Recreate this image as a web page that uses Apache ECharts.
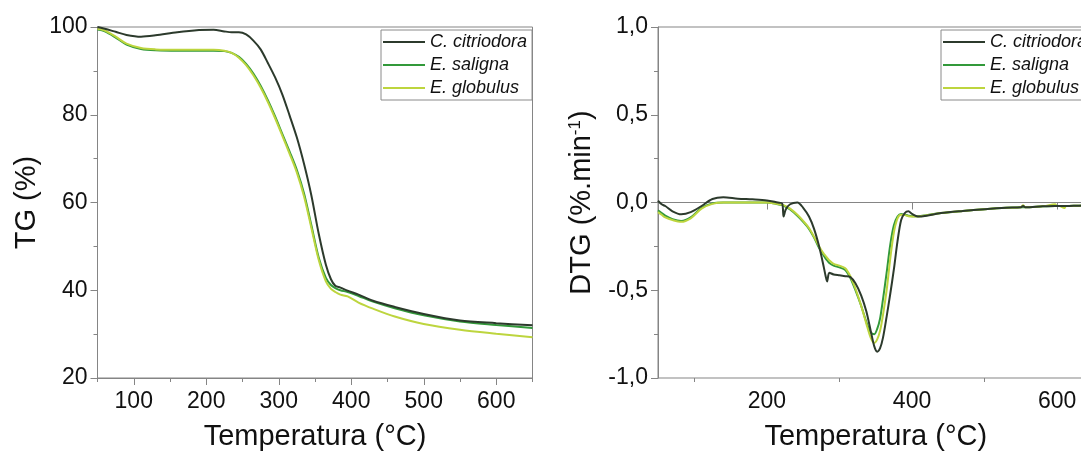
<!DOCTYPE html>
<html>
<head>
<meta charset="utf-8">
<script src="https://cdn.jsdelivr.net/npm/echarts@6/dist/echarts.min.js"></script>
<style>
  html, body { margin: 0; padding: 0; background: #fff; overflow: hidden; }
  #chart { width: 1100px; height: 459px; }
</style>
</head>
<body>
<div id="chart"></div>
<script>
// Thermogravimetric (TG) and derivative (DTG) curves of three eucalyptus woods
const speciesNames = ['C. citriodora', 'E. saligna', 'E. globulus'];

// TG: residual mass (%) vs temperature (°C)
const tgTemps = [50, 60, 75, 90, 110, 130, 160, 190, 210, 225, 235, 245, 255, 265, 275, 285, 295, 305, 315, 325, 335, 345, 355, 365, 372, 378, 385, 395, 410, 430, 460, 500, 550, 600, 650];
const tgCitriodora = [100.0, 99.6, 98.9, 98.2, 97.8, 98.1, 98.8, 99.3, 99.4, 99.0, 98.8, 98.8, 98.3, 96.9, 94.9, 91.8, 88.5, 84.6, 79.8, 74.8, 68.7, 61.6, 53.0, 45.8, 42.5, 41.0, 40.6, 39.9, 39.0, 37.6, 36.2, 34.6, 33.1, 32.5, 32.0];
const tgSaligna = [99.4, 99.0, 97.6, 96.0, 95.0, 94.7, 94.6, 94.6, 94.6, 94.5, 94.1, 93.2, 91.6, 89.4, 86.6, 83.3, 79.6, 75.6, 71.6, 67.4, 62.0, 54.8, 47.5, 42.8, 41.2, 40.5, 40.0, 39.6, 38.7, 37.4, 35.9, 34.3, 32.9, 32.1, 31.4];
const tgGlobulus = [99.6, 99.2, 97.8, 96.2, 95.2, 94.9, 94.8, 94.8, 94.8, 94.6, 94.1, 93.0, 91.3, 89.0, 86.2, 82.9, 79.2, 75.2, 71.1, 66.8, 61.3, 54.2, 47.0, 42.0, 40.3, 39.6, 39.0, 38.6, 37.2, 35.8, 34.0, 32.3, 31.0, 30.1, 29.3];

// DTG: mass loss rate (%.min-1) vs temperature (°C)
const dtgTemps = [50, 55, 60, 70, 82, 95, 110, 125, 140, 160, 180, 200, 215, 221, 223, 226, 232, 242, 250, 258, 265, 272, 278, 281, 283, 286, 292, 300, 308, 315, 322, 330, 337, 343, 348, 352, 356, 360, 365, 370, 375, 380, 385, 390, 395, 400, 408, 420, 440, 470, 500, 530, 550, 553, 556, 580, 597, 600, 603, 610, 612, 630, 650];
const dtgCitriodora = [0.01, -0.01, -0.02, -0.05, -0.067, -0.055, -0.02, 0.02, 0.03, 0.022, 0.018, 0.012, 0.0, -0.005, -0.08, -0.04, -0.01, 0.0, -0.03, -0.08, -0.15, -0.25, -0.36, -0.42, -0.45, -0.40, -0.41, -0.415, -0.42, -0.425, -0.46, -0.53, -0.62, -0.73, -0.82, -0.85, -0.83, -0.77, -0.65, -0.52, -0.38, -0.22, -0.10, -0.06, -0.05, -0.065, -0.08, -0.075, -0.06, -0.048, -0.038, -0.03, -0.027, -0.02, -0.027, -0.022, -0.02, -0.02, -0.02, -0.02, -0.02, -0.018, -0.017];
const dtgSaligna = [-0.045, -0.06, -0.075, -0.095, -0.105, -0.085, -0.03, -0.005, 0.0, 0.0, 0.0, 0.0, -0.01, -0.015, -0.018, -0.025, -0.04, -0.075, -0.11, -0.15, -0.20, -0.26, -0.30, -0.32, -0.33, -0.345, -0.36, -0.37, -0.385, -0.43, -0.50, -0.59, -0.68, -0.74, -0.75, -0.72, -0.66, -0.55, -0.40, -0.24, -0.13, -0.08, -0.065, -0.07, -0.075, -0.078, -0.078, -0.072, -0.06, -0.048, -0.038, -0.03, -0.027, -0.027, -0.027, -0.022, -0.02, -0.02, -0.02, -0.02, -0.02, -0.018, -0.017];
const dtgGlobulus = [-0.055, -0.07, -0.085, -0.10, -0.11, -0.09, -0.035, -0.008, 0.0, 0.0, 0.0, 0.0, -0.008, -0.012, -0.015, -0.02, -0.035, -0.07, -0.105, -0.145, -0.195, -0.25, -0.29, -0.305, -0.315, -0.33, -0.35, -0.36, -0.375, -0.42, -0.49, -0.59, -0.69, -0.77, -0.80, -0.78, -0.73, -0.64, -0.50, -0.32, -0.17, -0.09, -0.07, -0.072, -0.078, -0.08, -0.08, -0.073, -0.06, -0.048, -0.038, -0.03, -0.027, -0.015, -0.027, -0.022, -0.01, -0.02, -0.02, -0.032, -0.02, -0.018, -0.017];

// Axis ticks and labels
const tgMajorTicks = [100, 200, 300, 400, 500, 600];
const tgMinorTicks = [50, 150, 250, 350, 450, 550, 650];
const dtgMajorTicks = [200, 400, 600];
const dtgMinorTicks = [100, 300, 500];

const colors = ['#2c3a2c', '#32993a', '#bdd53e'];
const FONT = '"Liberation Sans", Arial, sans-serif';
const axisGrey = '#858585';

function pairs(xs, ys) { return xs.map((x, i) => [x, ys[i]]); }

function xAxisPair(gridIndex, major, minor) {
  const base = {
    gridIndex, type: 'value', min: 50, max: 650, interval: 50, position: 'bottom',
    splitLine: { show: false }
  };
  return [
    Object.assign({}, base, {
      axisLine: { show: true, lineStyle: { color: axisGrey, width: 1 } },
      axisTick: { show: true, customValues: major, length: 7, lineStyle: { color: axisGrey } },
      axisLabel: { show: true, customValues: major, fontSize: 23, color: '#111', fontFamily: FONT, margin: 12 },
      name: 'Temperatura (°C)', nameLocation: 'middle', nameGap: 44,
      nameTextStyle: { fontSize: 29, color: '#111', fontFamily: FONT }
    }),
    Object.assign({}, base, {
      axisLine: { show: false },
      axisTick: { show: true, customValues: minor, length: 4, lineStyle: { color: axisGrey } },
      axisLabel: { show: false }
    })
  ];
}

function yAxis(gridIndex, min, max, interval, name, formatter, nameGap) {
  return {
    gridIndex, type: 'value', min, max, interval,
    axisLine: { show: true, lineStyle: { color: axisGrey, width: 1 } },
    axisTick: { show: true, length: 7, lineStyle: { color: axisGrey } },
    minorTick: { show: true, splitNumber: 2, length: 4, lineStyle: { color: axisGrey } },
    splitLine: { show: false },
    axisLabel: { fontSize: 23, color: '#111', fontFamily: FONT, margin: 10, formatter },
    name, nameLocation: 'middle', nameGap,
    nameTextStyle: {
      fontSize: 29, color: '#111', fontFamily: FONT,
      rich: { sup: { fontSize: 17, color: '#111', fontFamily: FONT, verticalAlign: 'top', padding: [0, 0, 12, 0] } }
    }
  };
}

function line(name, xAxisIndex, yAxisIndex, data, color) {
  return {
    name, type: 'line', xAxisIndex, yAxisIndex, data,
    symbol: 'none', smooth: 0.3,
    lineStyle: { color, width: 2 }, itemStyle: { color },
    animation: false
  };
}

function legend(left) {
  return {
    data: speciesNames, orient: 'vertical', left, top: 30,
    icon: 'rect', itemWidth: 42, itemHeight: 2, itemGap: 3,
    padding: [2, 5, 2, 2],
    borderColor: '#8a8a8a', borderWidth: 1,
    textStyle: { fontSize: 18, fontStyle: 'italic', color: '#111', fontFamily: FONT, lineHeight: 20 }
  };
}

const chart = echarts.init(document.getElementById('chart'), null, { renderer: 'canvas' });
chart.setOption({
  backgroundColor: '#fff',
  animation: false,
  grid: [
    { left: 97.5, top: 27, width: 435, height: 351, show: true, borderColor: axisGrey, borderWidth: 1 },
    { left: 658, top: 27, width: 435.5, height: 351, show: true, borderColor: axisGrey, borderWidth: 1 }
  ],
  legend: [legend(381), legend(941)],
  xAxis: [].concat(xAxisPair(0, tgMajorTicks, tgMinorTicks), xAxisPair(1, dtgMajorTicks, dtgMinorTicks)),
  yAxis: [
    yAxis(0, 20, 100, 20, 'TG (%)', null, 56),
    yAxis(1, -1, 1, 0.5, 'DTG (%.min{sup|-1})', v => v.toFixed(1).replace('.', ','), 62)
  ],
  series: [
    line(speciesNames[1], 0, 0, pairs(tgTemps, tgSaligna), colors[1]),
    line(speciesNames[2], 0, 0, pairs(tgTemps, tgGlobulus), colors[2]),
    line(speciesNames[0], 0, 0, pairs(tgTemps, tgCitriodora), colors[0]),
    line(speciesNames[1], 2, 1, pairs(dtgTemps, dtgSaligna), colors[1]),
    line(speciesNames[2], 2, 1, pairs(dtgTemps, dtgGlobulus), colors[2]),
    line(speciesNames[0], 2, 1, pairs(dtgTemps, dtgCitriodora), colors[0])
  ]
});
</script>
</body>
</html>
